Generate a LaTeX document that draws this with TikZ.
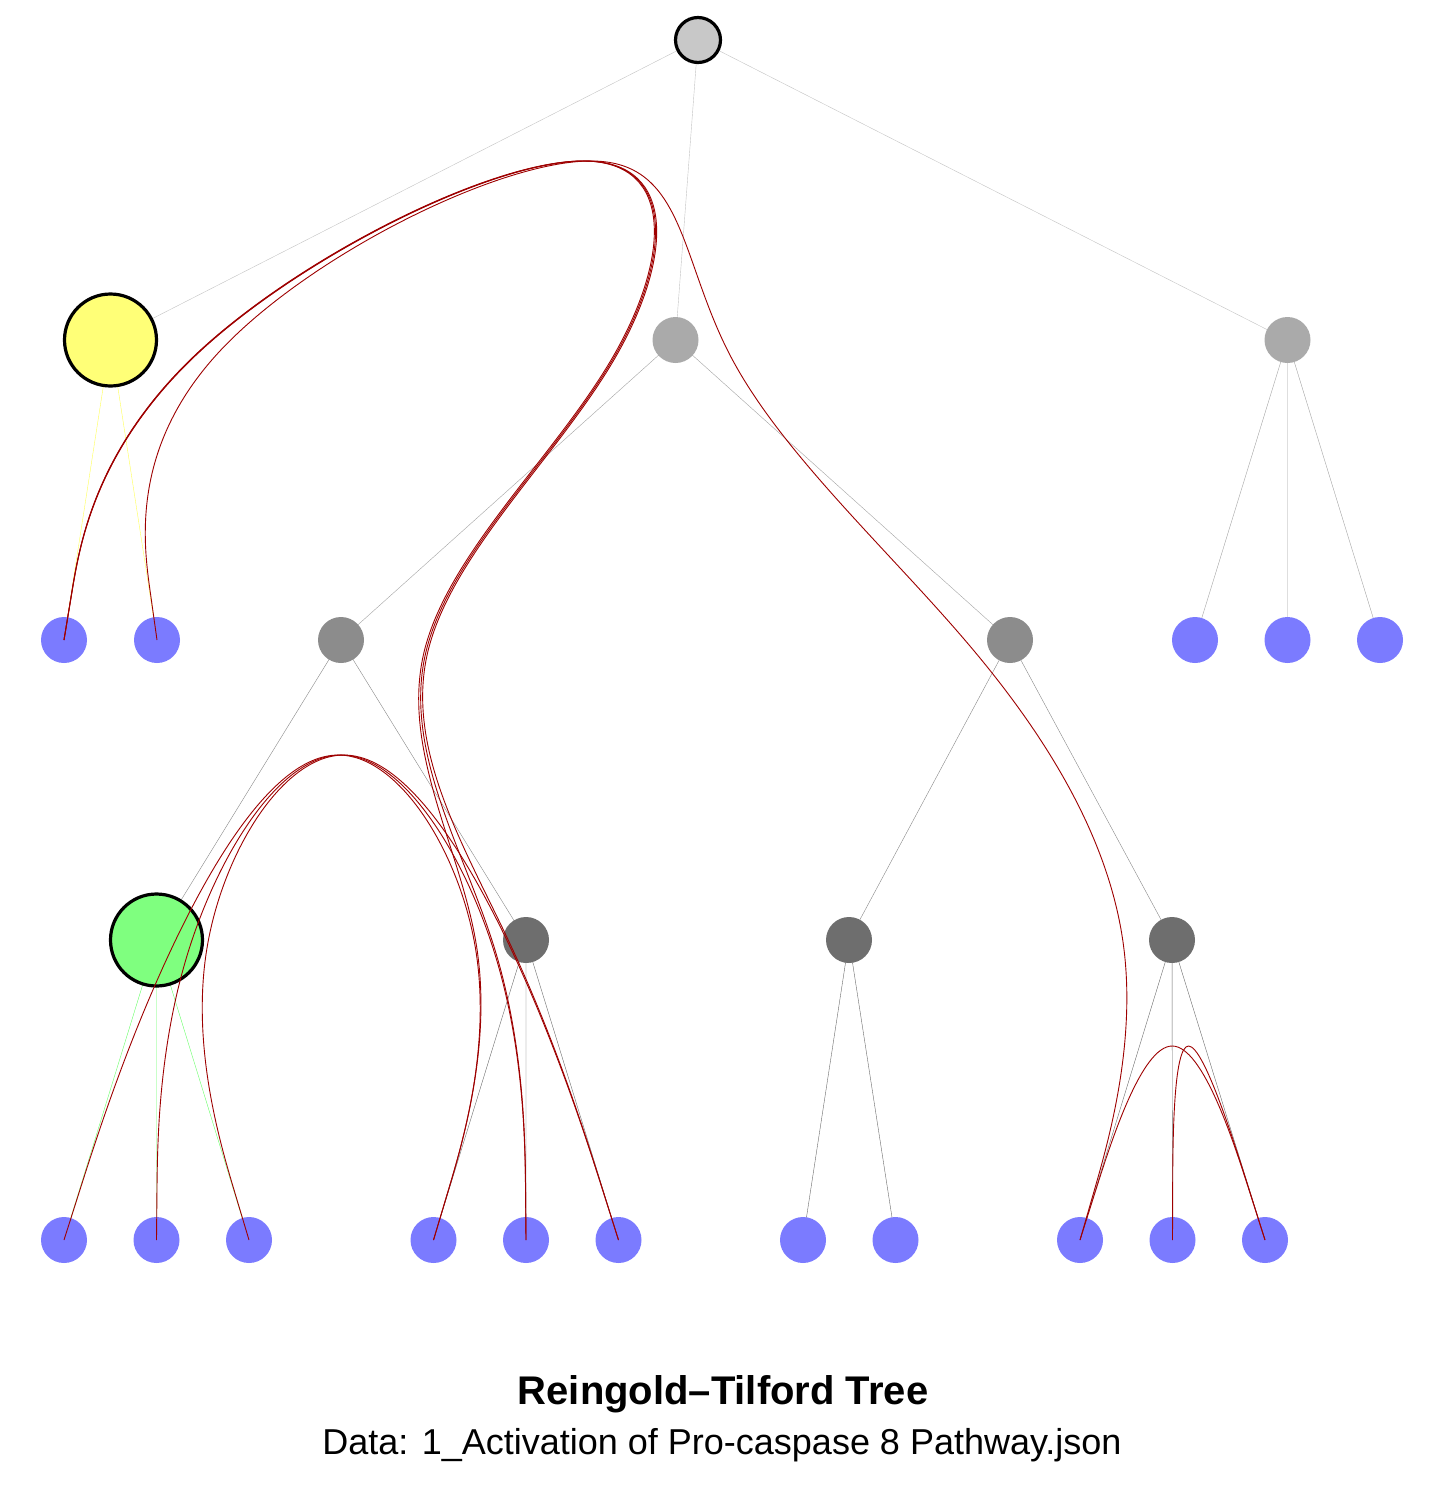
\documentclass[tikz,border=0pt]{standalone}
\usepackage{fontspec}
\setmainfont{Liberation Sans}
\usetikzlibrary{calc,backgrounds}
\definecolor{rootgray}{HTML}{C8C8C8}
\definecolor{lvlone}{HTML}{AAAAAA}
\definecolor{lvltwo}{HTML}{8C8C8C}
\definecolor{lvlthree}{HTML}{6E6E6E}
\definecolor{leafblue}{HTML}{7B7BFF}
\definecolor{cpxyellow}{HTML}{FFFF77}
\definecolor{cpxgreen}{HTML}{7FFF7F}
\definecolor{edgeyellow}{HTML}{FFFF55}
\definecolor{edgegreen}{HTML}{66FF66}
\definecolor{edgeroot}{HTML}{C4C4C4}
\definecolor{edgeone}{HTML}{A4A4A4}
\definecolor{edgetwo}{HTML}{888888}
\definecolor{edgethree}{HTML}{6A6A6A}
\definecolor{linkred}{HTML}{9E0000}
\tikzset{
  rootnd/.style={circle, draw=black, line width=3.2pt, fill=rootgray, minimum size=45pt, inner sep=0pt},
  bignd/.style={circle, draw=black, line width=3.2pt, minimum size=92pt, inner sep=0pt},
  graynd/.style={circle, minimum size=46pt, inner sep=0pt},
  leafnd/.style={circle, fill=leafblue, minimum size=46pt, inner sep=0pt},
  treeedge/.style={line width=1.4pt},
  link/.style={draw=linkred, line width=0.9pt},
}
\def\hbeta{0.97}
\newcommand\hebcurve[2]{%
  \foreach \nm [count=\i from 0] in {#2} {\coordinate (hp\i) at (\nm.center);}
  \foreach \i in {0,...,#1} {
    \coordinate (hs\i) at ($(hp0)!\i/#1!(hp#1)$);
    \coordinate (hq\i) at ($(hs\i)!\hbeta!(hp\i)$);
  }
  \pgfmathtruncatemacro\hmp{#1+1}
  \coordinate (hq\hmp) at (hq#1);
  \coordinate (he1) at ($(hq0)!1/6!(hq1)$);
  \foreach \k in {2,...,\hmp} {
    \pgfmathtruncatemacro\ka{\k-2}
    \pgfmathtruncatemacro\kb{\k-1}
    \coordinate (hc\k) at ($(hq\ka)!1/3!(hq\kb)$);
    \coordinate (hd\k) at ($(hq\ka)!2/3!(hq\kb)$);
    \coordinate (hh\k) at ($(hq\ka)!0.5!(hq\k)$);
    \coordinate (he\k) at ($(hq\kb)!1/3!(hh\k)$);
  }
  \draw[link] (hq0) -- (he1) \foreach \k in {2,...,\hmp} { .. controls (hc\k) and (hd\k) .. (he\k) } -- (hq#1);
}
\begin{document}
\begin{tikzpicture}[x=1pt,y=-1pt]
\useasboundingbox (0,0) rectangle (1450,1496);
% level 0
\node[rootnd] (rt) at (698,40) {};
% level 1
\node[bignd, fill=cpxyellow] (Y) at (110.5,340) {};
\node[graynd, fill=lvlone] (A) at (675.5,340) {};
\node[graynd, fill=lvlone] (B) at (1287.5,340) {};
% level 2
\node[leafnd] (L1) at (64,640) {};
\node[leafnd] (L2) at (157,640) {};
\node[graynd, fill=lvltwo] (C) at (341,640) {};
\node[graynd, fill=lvltwo] (D) at (1010,640) {};
\node[leafnd] (B1) at (1195,640) {};
\node[leafnd] (B2) at (1287.5,640) {};
\node[leafnd] (B3) at (1380,640) {};
% level 3
\node[bignd, fill=cpxgreen] (Gn) at (156.5,940) {};
\node[graynd, fill=lvlthree] (E) at (526,940) {};
\node[graynd, fill=lvlthree] (F) at (849,940) {};
\node[graynd, fill=lvlthree] (G) at (1172,940) {};
% level 4
\node[leafnd] (g1) at (64,1240) {};
\node[leafnd] (g2) at (156.5,1240) {};
\node[leafnd] (g3) at (249,1240) {};
\node[leafnd] (E1) at (433.5,1240) {};
\node[leafnd] (E2) at (526,1240) {};
\node[leafnd] (E3) at (618.5,1240) {};
\node[leafnd] (F1) at (803,1240) {};
\node[leafnd] (F2) at (895.5,1240) {};
\node[leafnd] (G1) at (1080,1240) {};
\node[leafnd] (G2) at (1172.5,1240) {};
\node[leafnd] (G3) at (1265,1240) {};
% tree edges
\begin{scope}[on background layer, treeedge]
  \fill[white] (0,0) rectangle (1450,1496);
  \draw[edgeroot] (rt.center) -- (Y.center) (rt.center) -- (A.center) (rt.center) -- (B.center);
  \draw[edgeone] (A.center) -- (C.center) (A.center) -- (D.center)
                 (B.center) -- (B1.center) (B.center) -- (B2.center) (B.center) -- (B3.center);
  \draw[edgeyellow] (Y.center) -- (L1.center) (Y.center) -- (L2.center);
  \draw[edgetwo] (C.center) -- (Gn.center) (C.center) -- (E.center)
                 (D.center) -- (F.center) (D.center) -- (G.center);
  \draw[edgegreen] (Gn.center) -- (g1.center) (Gn.center) -- (g2.center) (Gn.center) -- (g3.center);
  \draw[edgethree] (E.center) -- (E1.center) (E.center) -- (E2.center) (E.center) -- (E3.center)
                   (F.center) -- (F1.center) (F.center) -- (F2.center)
                   (G.center) -- (G1.center) (G.center) -- (G2.center) (G.center) -- (G3.center);
\end{scope}
% bundled links
\hebcurve{6}{L1,Y,rt,A,C,E,E1}
\hebcurve{6}{L1,Y,rt,A,C,E,E2}
\hebcurve{6}{L1,Y,rt,A,C,E,E3}
\hebcurve{6}{L2,Y,rt,A,D,G,G1}
\hebcurve{4}{g1,Gn,C,E,E1}
\hebcurve{4}{g2,Gn,C,E,E2}
\hebcurve{4}{g3,Gn,C,E,E3}
\hebcurve{2}{G1,G,G3}
\hebcurve{2}{G2,G,G3}
% titles
\node[font=\bfseries\fontsize{40}{46}\selectfont] (ttl) at (723,1394) {Reingold–Tilford Tree};
\node[font=\fontsize{36}{42}\selectfont] (sub) at (722,1445) {Data: 1\_Activation of Pro-caspase 8 Pathway.json};
\end{tikzpicture}
\end{document}
